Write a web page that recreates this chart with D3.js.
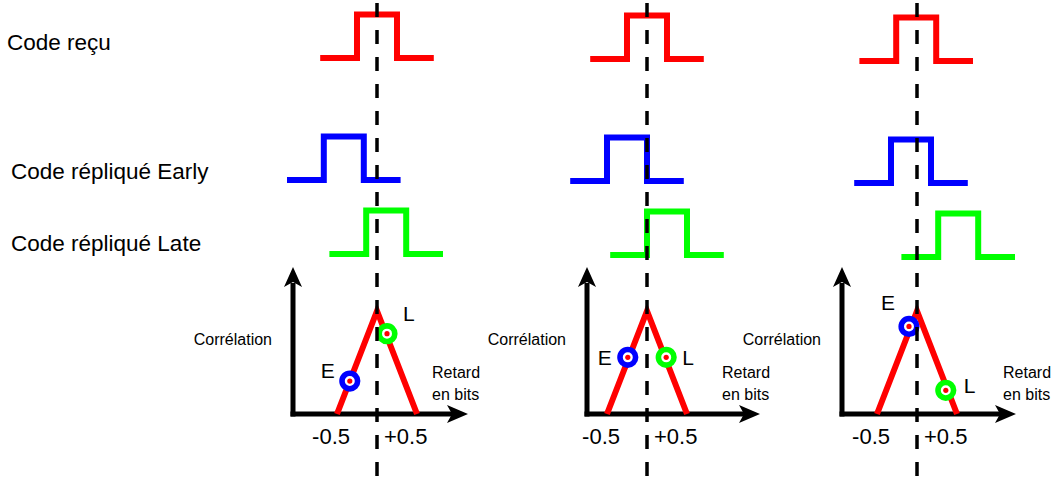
<!DOCTYPE html>
<html>
<head>
<meta charset="utf-8">
<script src="https://cdn.jsdelivr.net/npm/d3@7"></script>
<style>
  html, body { margin: 0; padding: 0; background: #fff; }
  svg { display: block; }
  text { font-family: "Liberation Sans", Arial, sans-serif; fill: #000; }
</style>
</head>
<body>
<svg id="chart" width="1056" height="481"></svg>
<script>
// ---------------- DATA ----------------
const cases = ["cas 1", "cas 2", "cas 3"];
const rowLabels = ["Code reçu", "Code répliqué Early", "Code répliqué Late"];
// one chip of code: [time in chips, level]
const codeShape = [[-1.42, 0], [-0.5, 0], [-0.5, 1], [0.5, 1], [0.5, 0], [1.42, 0]];
const receivedDelay = [0, 0, -0.02];
const earlyDelay = [-0.83, -0.5, -0.15];
const lateDelay = [0.23, 0.5, 1.03];
// correlation triangle: [delay in chips, correlation]
const corrShape = [[-1, 0], [0, 1], [1, 0]];
const earlyCorr = [[-0.68, 0.32], [-0.48, 0.55], [-0.2, 0.85]];
const lateCorr = [[0.25, 0.78], [0.48, 0.55], [0.72, 0.23]];
const tickLabels = ["-0.5", "+0.5"];
const markerLabels = ["E", "L"];
const yAxisTitle = "Corrélation";
const xAxisTitle = ["Retard", "en bits"];

// ---------------- LAYOUT ----------------
const W = 1056, H = 481;
const chipPx = 40;
const panelYOffset = [0, 1, 3];
const rowBase = [58, 180, 254];
const rowAmp = 43.5;
const rowColors = ["#ff0000", "#0000ff", "#00ff00"];
const rowLabelPos = [[7, 50], [11, 179], [11, 251]];
const yAxisAt = [-2.1, -1.5, -1.875];
const xAxisTip = [2.275, 2.825, 2.475];
const retardAt = [1.375, 1.875, 2.15];
const eLabelOff = [[-15, -3], [-16, 8], [-14, -16]];
const lLabelOff = [[16, -13], [16, 8], [18, 3]];

const svg = d3.select("#chart");
const panelX = d3.scalePoint().domain(cases).range([377, 917]);
const corrY = d3.scaleLinear().domain([0, 1]).range([414, 311]);
const axisY = corrY(0);

// row labels
svg.selectAll("text.row").data(rowLabels).join("text")
  .attr("class", "row")
  .attr("x", (d, i) => rowLabelPos[i][0])
  .attr("y", (d, i) => rowLabelPos[i][1])
  .attr("font-size", 22.5)
  .text(d => d);

cases.forEach((c, p) => {
  const cx = panelX(c);
  const x = d3.scaleLinear().domain([-1, 1]).range([cx - chipPx, cx + chipPx]);
  const g = svg.append("g");

  // code waveforms
  const delays = [receivedDelay[p], earlyDelay[p], lateDelay[p]];
  delays.forEach((dl, r) => {
    const base = rowBase[r] + panelYOffset[p];
    const y = d3.scaleLinear().domain([0, 1]).range([base, base - rowAmp]);
    const line = d3.line().x(d => x(d[0] + dl)).y(d => y(d[1]));
    g.append("path")
      .attr("d", line(codeShape))
      .attr("fill", "none")
      .attr("stroke", rowColors[r])
      .attr("stroke-width", 6)
      .attr("stroke-linejoin", "miter")
      .attr("stroke-linecap", "butt");
  });

  // correlation axes
  const ax0 = x(yAxisAt[p]);
  const axTip = x(xAxisTip[p]);
  const ayTop = 267;
  g.append("line")
    .attr("x1", ax0 - 2.5).attr("y1", axisY)
    .attr("x2", axTip - 16).attr("y2", axisY)
    .attr("stroke", "#000").attr("stroke-width", 5);
  g.append("line")
    .attr("x1", ax0).attr("y1", axisY + 2.5)
    .attr("x2", ax0).attr("y2", ayTop + 16)
    .attr("stroke", "#000").attr("stroke-width", 5);
  // arrowheads
  g.append("path")
    .attr("d", `M${axTip},${axisY} L${axTip - 21},${axisY - 9} L${axTip - 16},${axisY} L${axTip - 21},${axisY + 9} Z`)
    .attr("fill", "#000");
  g.append("path")
    .attr("d", `M${ax0},${ayTop} L${ax0 - 9},${ayTop + 20} L${ax0},${ayTop + 15} L${ax0 + 9},${ayTop + 20} Z`)
    .attr("fill", "#000");

  // correlation triangle
  const tri = d3.line().x(d => x(d[0])).y(d => corrY(d[1]));
  g.append("path")
    .attr("d", tri(corrShape))
    .attr("fill", "none")
    .attr("stroke", "#ff0000")
    .attr("stroke-width", 6)
    .attr("stroke-linejoin", "miter")
    .attr("stroke-linecap", "butt");

  // axis texts
  g.append("text")
    .attr("x", ax0 - 21).attr("y", 345)
    .attr("text-anchor", "end")
    .attr("font-size", 16)
    .text(yAxisTitle);
  g.selectAll("text.ret").data(xAxisTitle).join("text")
    .attr("class", "ret")
    .attr("x", x(retardAt[p]))
    .attr("y", (d, i) => 378 + i * 22)
    .attr("font-size", 16)
    .text(d => d);
  g.append("text")
    .attr("x", cx - 27).attr("y", 444)
    .attr("text-anchor", "end")
    .attr("font-size", 22)
    .text(tickLabels[0]);
  g.append("text")
    .attr("x", cx + 7).attr("y", 444)
    .attr("text-anchor", "start")
    .attr("font-size", 22)
    .text(tickLabels[1]);

  // E / L markers
  const marks = [
    {pt: earlyCorr[p], col: "#0000ff", lab: markerLabels[0], off: eLabelOff[p], anchor: "end"},
    {pt: lateCorr[p], col: "#00ff00", lab: markerLabels[1], off: lLabelOff[p], anchor: "start"}
  ];
  marks.forEach(m => {
    const mx = x(m.pt[0]), my = corrY(m.pt[1]);
    g.append("circle").attr("cx", mx).attr("cy", my).attr("r", 7.8)
      .attr("fill", "#fff").attr("stroke", m.col).attr("stroke-width", 5.6);
    g.append("circle").attr("cx", mx).attr("cy", my).attr("r", 2.6)
      .attr("fill", "#ff0000");
    g.append("text")
      .attr("x", mx + m.off[0]).attr("y", my + m.off[1])
      .attr("text-anchor", m.anchor)
      .attr("font-size", 21)
      .text(m.lab);
  });

  // dashed reference line (drawn on top)
  svg.append("line")
    .attr("x1", cx).attr("y1", 3)
    .attr("x2", cx).attr("y2", H)
    .attr("stroke", "#000")
    .attr("stroke-width", 3.5)
    .attr("stroke-dasharray", "14,13");
});
</script>
</body>
</html>
